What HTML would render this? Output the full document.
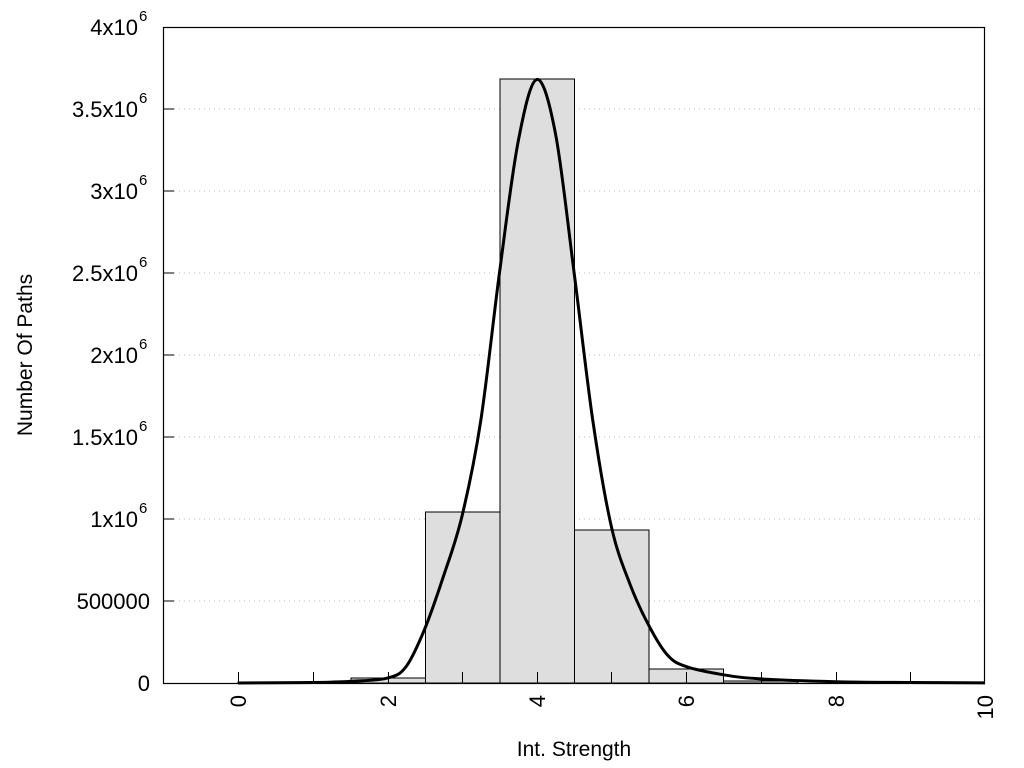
<!DOCTYPE html>
<html><head><meta charset="utf-8"><style>
html,body{margin:0;padding:0;background:#fff;}
svg{display:block;font-family:"Liberation Sans",sans-serif;}
</style></head><body>
<svg id="s" width="1024" height="768" viewBox="0 0 1024 768" xmlns="http://www.w3.org/2000/svg">
<g stroke="#bbb" stroke-dasharray="1,4" stroke-width="1">
<line x1="174" x2="985" y1="601" y2="601"/>
<line x1="174" x2="985" y1="519" y2="519"/>
<line x1="174" x2="985" y1="437" y2="437"/>
<line x1="174" x2="985" y1="355" y2="355"/>
<line x1="174" x2="985" y1="273" y2="273"/>
<line x1="174" x2="985" y1="191" y2="191"/>
<line x1="174" x2="985" y1="109" y2="109"/>
</g>
<g fill="#dedede" stroke="#000" stroke-width="1">
<rect x="238" y="682" width="75" height="1"/>
<rect x="313" y="682" width="37" height="1"/>
<rect x="351" y="678" width="74.5" height="5"/>
<rect x="425.5" y="512" width="74.5" height="171"/>
<rect x="500" y="79" width="74.5" height="604"/>
<rect x="574.5" y="530" width="74.5" height="153"/>
<rect x="649" y="669" width="74.5" height="14"/>
<rect x="723.5" y="681" width="74.5" height="2"/>
</g>
<rect x="163.5" y="27.5" width="821" height="656" fill="none" stroke="#000" stroke-width="1.2"/>
<g stroke="#000" stroke-width="1">
<line x1="163" x2="174" y1="601" y2="601"/><line x1="163" x2="174" y1="519" y2="519"/>
<line x1="163" x2="174" y1="437" y2="437"/><line x1="163" x2="174" y1="355" y2="355"/>
<line x1="163" x2="174" y1="273" y2="273"/><line x1="163" x2="174" y1="191" y2="191"/>
<line x1="163" x2="174" y1="109" y2="109"/>
<line x1="238.5" x2="238.5" y1="672" y2="683"/><line x1="313.5" x2="313.5" y1="672" y2="683"/>
<line x1="388.5" x2="388.5" y1="672" y2="683"/><line x1="462.5" x2="462.5" y1="672" y2="683"/>
<line x1="537.5" x2="537.5" y1="672" y2="683"/><line x1="611.5" x2="611.5" y1="672" y2="683"/>
<line x1="686.5" x2="686.5" y1="672" y2="683"/><line x1="761.5" x2="761.5" y1="672" y2="683"/>
<line x1="836.5" x2="836.5" y1="672" y2="683"/><line x1="910.5" x2="910.5" y1="672" y2="683"/>
</g>
<path id="c" fill="none" stroke="#000" stroke-width="3" stroke-linejoin="round"/>
<g font-size="22" text-anchor="end" fill="#000">
<text x="150" y="691">0</text>
<text x="150" y="609">500000</text>
<text x="138" y="527">1x10</text><text x="139" y="513" font-size="15" text-anchor="start">6</text>
<text x="138" y="445">1.5x10</text><text x="139" y="431" font-size="15" text-anchor="start">6</text>
<text x="138" y="363">2x10</text><text x="139" y="349" font-size="15" text-anchor="start">6</text>
<text x="138" y="281">2.5x10</text><text x="139" y="267" font-size="15" text-anchor="start">6</text>
<text x="138" y="199">3x10</text><text x="139" y="185" font-size="15" text-anchor="start">6</text>
<text x="138" y="117">3.5x10</text><text x="139" y="103" font-size="15" text-anchor="start">6</text>
<text x="138" y="35">4x10</text><text x="139" y="21" font-size="15" text-anchor="start">6</text>
</g>
<g font-size="22" text-anchor="end">
<text transform="translate(246,695) rotate(-90)">0</text>
<text transform="translate(396,695) rotate(-90)">2</text>
<text transform="translate(545,695) rotate(-90)">4</text>
<text transform="translate(694,695) rotate(-90)">6</text>
<text transform="translate(844,695) rotate(-90)">8</text>
<text transform="translate(993,695) rotate(-90)">10</text>
</g>
<text x="574" y="756" font-size="21" text-anchor="middle">Int. Strength</text>
<text transform="translate(32,355) rotate(-90)" font-size="21" text-anchor="middle">Number Of Paths</text>
</svg>
<script>
var d=[[0,0],[1,0.003],[1.5,0.01],[2,0.03],[2.25,0.1],[2.5,0.33],[2.75,0.65],[3,1.02],[3.25,1.6],[3.5,2.5],[3.75,3.3],[4,3.68],[4.25,3.35],[4.5,2.5],[4.75,1.6],[5,0.95],[5.25,0.6],[5.5,0.35],[5.75,0.17],[6,0.1],[6.5,0.05],[7,0.025],[8,0.008],[9,0.003],[10,0.001]];
var p=d.map(function(a){return [238+a[0]*74.7,683-a[1]*164];});
var s="M"+p[0][0]+","+p[0][1];
for(var i=0;i<p.length-1;i++){var p0=p[i-1]||p[i],p1=p[i],p2=p[i+1],p3=p[i+2]||p2;
s+=" C"+(p1[0]+(p2[0]-p0[0])/6)+","+(p1[1]+(p2[1]-p0[1])/6)+" "+(p2[0]-(p3[0]-p1[0])/6)+","+(p2[1]-(p3[1]-p1[1])/6)+" "+p2[0]+","+p2[1];}
document.getElementById("c").setAttribute("d",s);
</script>
</body></html>
